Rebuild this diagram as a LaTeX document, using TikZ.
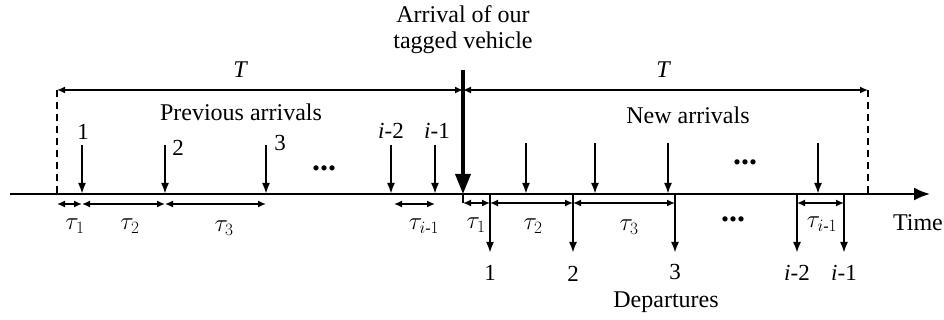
\documentclass[tikz,border=0pt]{standalone}
\usepackage{amsmath}
\usepackage{fontspec}
\setmainfont{Liberation Serif}
\usetikzlibrary{arrows.meta}
\begin{document}
\begin{tikzpicture}[x=1pt,y=-1pt,
  lbl/.style={font=\fontsize{24}{26}\selectfont, inner sep=0pt},
  sm/.style={font=\fontsize{23}{26}\selectfont, inner sep=0pt},
  dots/.style={font=\fontsize{32}{34}\selectfont\bfseries, inner sep=0pt},
  arr/.style={line width=2pt, -{Latex[length=11pt,width=8pt]}},
  dbl/.style={line width=1.5pt, {Latex[length=8pt,width=7pt]}-{Latex[length=8pt,width=7pt]}},
  dsh/.style={line width=1.8pt, dash pattern=on 7pt off 5pt}]
\useasboundingbox (0,0) rectangle (944,320);
% axis
\coordinate (a0) at (10,194);
\coordinate (a1) at (930,194);
\draw[line width=2pt, -{Latex[length=16pt,width=13pt]}] (a0) -- (a1);
\node[lbl, anchor=east] (time) at (943,223) {Time};
% tagged vehicle
\node[lbl, align=center] (tvl) at (463,30) {Arrival of our\\tagged vehicle};
\coordinate (tvt) at (463,70);
\coordinate (tv) at (463,194);
\coordinate (tvb) at (463,203);
\draw[line width=3.5pt, -{Triangle[length=20pt,width=15pt]}] (tvt) -- (tv);
\draw[line width=2.2pt] (tv) -- (tvb);
% dashed boundaries
\coordinate (dl) at (57,90);
\coordinate (dlb) at (57,194);
\coordinate (dr) at (868,90);
\coordinate (drb) at (868,194);
\draw[dsh] (dl) -- (dlb);
\draw[dsh] (dr) -- (drb);
\coordinate (tm) at (463,90);
\draw[dbl] (dl) -- (tm);
\draw[dbl] (tm) -- (dr);
\node[lbl, font=\fontsize{24}{26}\selectfont\itshape] (T1) at (240,70) {T};
\node[lbl, font=\fontsize{24}{26}\selectfont\itshape] (T2) at (663,70) {T};
\node[lbl] (prev) at (241,112) {Previous arrivals};
\node[lbl] (new) at (688,115) {New arrivals};
% previous arrivals
\foreach \n/\x in {1/82,2/165,3/266,4/391,5/435}{
  \coordinate (p\n t) at (\x,145);
  \coordinate (p\n) at (\x,194);
  \draw[arr] (p\n t) -- (p\n);
}
\node[sm] (pl1) at (83,132) {1};
\node[sm] (pl2) at (178,148) {2};
\node[sm] (pl3) at (280,143) {3};
\node[sm] (pl4) at (391,131) {\textit{i}-2};
\node[sm] (pl5) at (437,131) {\textit{i}-1};
\node[dots] (pd) at (324,168) {...};
% previous taus
\coordinate (pq0) at (57,204);
\foreach \n/\x in {1/82,2/165,3/266,4/394,5/435}{
  \coordinate (pq\n) at (\x,204);
}
\draw[dbl] (pq0) -- (pq1);
\draw[dbl] (pq1) -- (pq2);
\draw[dbl] (pq2) -- (pq3);
\draw[dbl] (pq4) -- (pq5);
\node[sm] (pt1) at (75,226) {$\tau_1$};
\node[sm] (pt2) at (130,226) {$\tau_2$};
\node[sm] (pt3) at (224,228) {$\tau_3$};
\node[sm] (pt4) at (424,226) {$\tau_{i\text{-}1}$};
% new arrivals
\foreach \n/\x in {1/526,2/595,3/668,4/818}{
  \coordinate (n\n t) at (\x,143);
  \coordinate (n\n) at (\x,194);
  \draw[arr] (n\n t) -- (n\n);
}
\node[dots] (nd) at (745,162) {...};
% departures
\foreach \n/\x in {1/490,2/573,3/675,4/797,5/844}{
  \coordinate (d\n) at (\x,194);
  \coordinate (d\n b) at (\x,253);
  \draw[arr] (d\n) -- (d\n b);
}
\node[sm] (dl1) at (490,273) {1};
\node[sm] (dl2) at (573,274) {2};
\node[sm] (dl3) at (675,272) {3};
\node[sm] (dl4) at (797,273) {\textit{i}-2};
\node[sm] (dl5) at (844,273) {\textit{i}-1};
\node[lbl] (dep) at (666,302) {Departures};
% new taus
\coordinate (nq0) at (463,203);
\foreach \n/\x in {1/490,2/573,3/675,4/797,5/844}{
  \coordinate (nq\n) at (\x,203);
}
\draw[dbl] (nq0) -- (nq1);
\draw[dbl] (nq1) -- (nq2);
\draw[dbl] (nq2) -- (nq3);
\draw[dbl] (nq4) -- (nq5);
\node[sm] (nt1) at (476,225) {$\tau_1$};
\node[sm] (nt2) at (533,226) {$\tau_2$};
\node[sm] (nt3) at (629,227) {$\tau_3$};
\node[sm] (nt4) at (822,224) {$\tau_{i\text{-}1}$};
\node[dots] (dd) at (733,219) {...};
\end{tikzpicture}
\end{document}
